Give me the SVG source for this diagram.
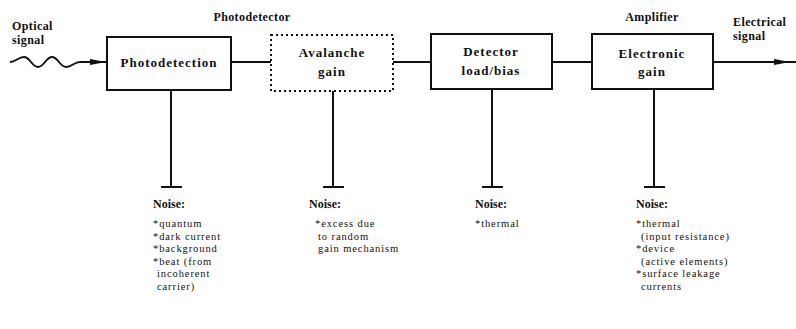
<svg xmlns="http://www.w3.org/2000/svg" width="796" height="329" viewBox="0 0 796 329">
<style>
.box{fill:none;stroke:#111;stroke-width:2}
.dot{fill:none;stroke:#111;stroke-width:2;stroke-dasharray:2 3}
.ln{fill:none;stroke:#111;stroke-width:2}
.bl{font-family:"Liberation Serif","Times New Roman",serif;font-size:13px;font-weight:bold;letter-spacing:1px;fill:#111;text-anchor:middle}
.lb{font-family:"Liberation Serif","Times New Roman",serif;font-size:12px;font-weight:bold;letter-spacing:0.4px;fill:#111}
.nz{font-family:"Liberation Serif","Times New Roman",serif;font-size:10.5px;letter-spacing:0.9px;fill:#111}
.nh{font-family:"Liberation Serif","Times New Roman",serif;font-size:12px;font-weight:bold;fill:#111}
</style>
<defs>
<marker id="ah" viewBox="0 0 16 6" refX="16" refY="3" markerWidth="16" markerHeight="6" markerUnits="userSpaceOnUse" orient="auto">
<path d="M0,0 L16,3 L0,6 Z" fill="#111"/>
</marker>
</defs>

<g id="labels">
<text class="lb" x="12" y="30">Optical</text>
<text class="lb" x="12" y="44">signal</text>
<text class="lb" x="252" y="21" text-anchor="middle">Photodetector</text>
<text class="lb" x="652" y="21" text-anchor="middle">Amplifier</text>
<text class="lb" x="733" y="26">Electrical</text>
<text class="lb" x="733" y="40">signal</text>
</g>

<g id="connectors">
<path class="ln" d="M10,62 C16,62 18,57 24,57 C30,57 32,67 38,67 C44,67 46,57 52,57 C58,57 60,67 66,67 C72,67 74,62 80,62 L106,62" marker-end="url(#ah)"/>
<line class="ln" x1="231" y1="62" x2="271" y2="62"/>
<line class="ln" x1="393" y1="62" x2="431" y2="62"/>
<line class="ln" x1="552" y1="62" x2="592" y2="62"/>
<line class="ln" x1="713" y1="62" x2="790" y2="62" marker-end="url(#ah)"/>
<line class="ln" x1="790" y1="62" x2="796" y2="62"/>
<line class="ln" x1="171" y1="90" x2="171" y2="187"/>
<line class="ln" x1="161" y1="187" x2="182" y2="187"/>
<line class="ln" x1="333" y1="91" x2="333" y2="187"/>
<line class="ln" x1="323" y1="187" x2="344" y2="187"/>
<line class="ln" x1="492" y1="89" x2="492" y2="187"/>
<line class="ln" x1="482" y1="187" x2="503" y2="187"/>
<line class="ln" x1="654" y1="89" x2="654" y2="187"/>
<line class="ln" x1="644" y1="187" x2="665" y2="187"/>
</g>

<g id="photodetection">
<rect class="box" x="107" y="37" width="124" height="53"/>
<text class="bl" x="169" y="67">Photodetection</text>
</g>

<g id="avalanche">
<rect class="dot" x="271" y="35" width="122" height="56"/>
<text class="bl" x="332" y="57">Avalanche</text>
<text class="bl" x="332" y="76">gain</text>
</g>

<g id="detector">
<rect class="box" x="431" y="34" width="121" height="55"/>
<text class="bl" x="491" y="56">Detector</text>
<text class="bl" x="491" y="75">load/bias</text>
</g>

<g id="electronic">
<rect class="box" x="592" y="34" width="121" height="55"/>
<text class="bl" x="652" y="58">Electronic</text>
<text class="bl" x="652" y="76">gain</text>
</g>

<g id="noise1">
<text class="nh" x="153" y="208">Noise:</text>
<text class="nz" x="153" y="227">*quantum</text>
<text class="nz" x="153" y="239.5">*dark current</text>
<text class="nz" x="153" y="252">*background</text>
<text class="nz" x="153" y="264.5">*beat (from</text>
<text class="nz" x="157" y="277">incoherent</text>
<text class="nz" x="157" y="289.5">carrier)</text>
</g>

<g id="noise2">
<text class="nh" x="309" y="208">Noise:</text>
<text class="nz" x="315" y="227">*excess due</text>
<text class="nz" x="318" y="239.5">to random</text>
<text class="nz" x="318" y="252">gain mechanism</text>
</g>

<g id="noise3">
<text class="nh" x="475" y="208">Noise:</text>
<text class="nz" x="475" y="227">*thermal</text>
</g>

<g id="noise4">
<text class="nh" x="636" y="208">Noise:</text>
<text class="nz" x="636" y="227">*thermal</text>
<text class="nz" x="641" y="239.5">(input resistance)</text>
<text class="nz" x="636" y="252">*device</text>
<text class="nz" x="641" y="264.5">(active elements)</text>
<text class="nz" x="636" y="277">*surface leakage</text>
<text class="nz" x="641" y="289.5">currents</text>
</g>
</svg>
